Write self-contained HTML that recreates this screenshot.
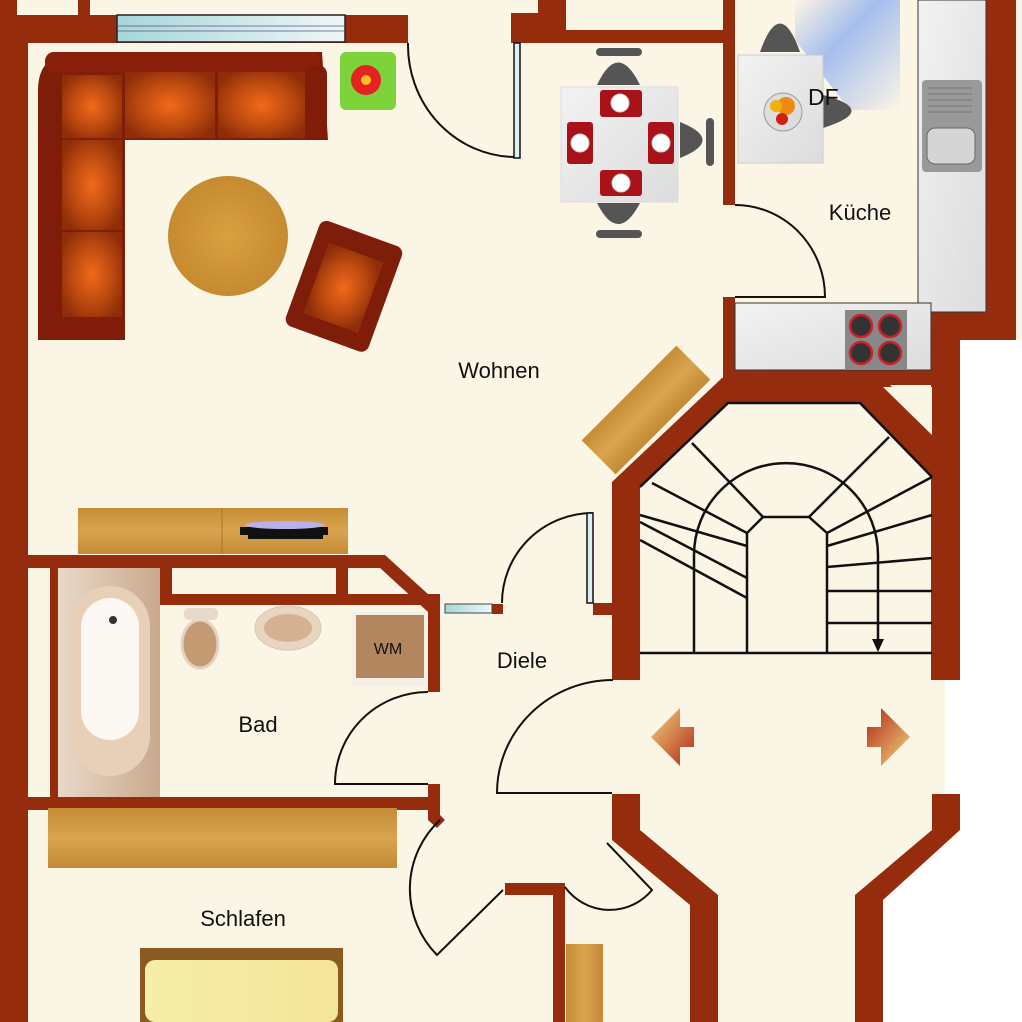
<!DOCTYPE html>
<html><head><meta charset="utf-8"><style>
html,body{margin:0;padding:0;background:#fff;}
svg{display:block;}
text{font-family:"Liberation Sans",Arial,sans-serif;fill:#111;}
</style></head><body>
<svg width="1022" height="1022" viewBox="0 0 1022 1022" xmlns="http://www.w3.org/2000/svg">
<defs>
<linearGradient id="wood" x1="0" y1="0" x2="1" y2="0">
<stop offset="0" stop-color="#C58C34"/><stop offset="0.5" stop-color="#D9A450"/><stop offset="1" stop-color="#C48A36"/></linearGradient>
<linearGradient id="woodv" x1="0" y1="0" x2="0" y2="1">
<stop offset="0" stop-color="#C58C34"/><stop offset="0.5" stop-color="#D9A450"/><stop offset="1" stop-color="#C48A36"/></linearGradient>
<radialGradient id="cush" cx="0.5" cy="0.5" r="0.6">
<stop offset="0" stop-color="#F26A1A"/><stop offset="0.6" stop-color="#B9480F"/><stop offset="1" stop-color="#8E2D08"/></radialGradient>
<radialGradient id="tbl" cx="0.5" cy="0.5" r="0.5">
<stop offset="0" stop-color="#D9A040"/><stop offset="1" stop-color="#C68A30"/></radialGradient>
<linearGradient id="glass" x1="0" y1="0" x2="1" y2="0">
<stop offset="0" stop-color="#A7D6DA"/><stop offset="1" stop-color="#EEF6F7"/></linearGradient>
<linearGradient id="df" x1="0" y1="0" x2="1" y2="1">
<stop offset="0" stop-color="#FBF5E6"/><stop offset="0.4" stop-color="#8FB0EE"/><stop offset="1" stop-color="#FBF5E6"/></linearGradient>
<linearGradient id="grey" x1="0" y1="0" x2="1" y2="1">
<stop offset="0" stop-color="#F2F2F2"/><stop offset="1" stop-color="#DCDCDC"/></linearGradient>
<linearGradient id="bath" x1="0" y1="0" x2="1" y2="0">
<stop offset="0" stop-color="#E9D8C8"/><stop offset="1" stop-color="#C9A88C"/></linearGradient>
<linearGradient id="arrL" x1="0" y1="0" x2="1" y2="1">
<stop offset="0" stop-color="#F3D77A"/><stop offset="1" stop-color="#B0281A"/></linearGradient>
<linearGradient id="arrR" x1="0" y1="0" x2="1" y2="1">
<stop offset="0" stop-color="#B0281A"/><stop offset="1" stop-color="#F3D77A"/></linearGradient>
<linearGradient id="bed" x1="0" y1="0" x2="1" y2="0">
<stop offset="0" stop-color="#F6EEA8"/><stop offset="1" stop-color="#F3E59A"/></linearGradient>
</defs>

<rect x="0" y="0" width="1022" height="1022" fill="#FBF5E6"/>
<polygon points="960,340 1022,340 1022,1022 883,1022 883,900 960,830" fill="#fff"/>
<rect x="945" y="680" width="77" height="115" fill="#fff"/>
<rect x="0" y="0" width="17" height="15" fill="#962C0E"/>
<rect x="78" y="0" width="12" height="15" fill="#962C0E"/>

<g fill="#962C0E">
<rect x="0" y="15" width="28" height="1007"/>
<rect x="0" y="15" width="408" height="28"/>
<rect x="520" y="30" width="213" height="13"/>
<rect x="511" y="13" width="27" height="30"/>
<rect x="538" y="0" width="28" height="32"/>
<rect x="723" y="0" width="12" height="205"/>
<rect x="723" y="297" width="12" height="90"/>
<rect x="986" y="0" width="30" height="340"/>
<rect x="931" y="312" width="85" height="28"/>
<rect x="931" y="312" width="29" height="368"/>
<rect x="723" y="368" width="237" height="17"/>
<polygon points="612,482 722,378 883,378 960,455 960,680 932,680 932,477 860,403 728,403 640,487 640,680 612,680"/>
<polygon points="612,794 640,794 640,830 718,895 718,1022 690,1022 690,905 612,840"/>
<polygon points="932,794 960,794 960,830 883,900 883,1022 855,1022 855,895 932,830"/>
<rect x="28" y="555" width="357" height="13"/>
<polygon points="385,555 440,605 440,692 428,692 428,612 380,568 385,568"/>
<rect x="160" y="568" width="12" height="37"/>
<rect x="160" y="594" width="280" height="11"/>
<rect x="336" y="568" width="12" height="30"/>
<rect x="50" y="568" width="8" height="229"/>
<rect x="28" y="797" width="412" height="13"/>
<polygon points="428,784 440,784 440,815 445,820 437,828 428,820"/>
<rect x="492" y="604" width="11" height="10"/>
<rect x="593" y="603" width="20" height="12"/>
<rect x="505" y="883" width="60" height="12"/>
<rect x="553" y="883" width="12" height="139"/>
</g>
<polygon points="883,387 932,387 932,435" fill="#FBF5E6"/>
<polygon points="348,568 380,568 400,587 348,587" fill="#FBF5E6"/>

<rect x="117" y="15" width="228" height="27" fill="url(#glass)" stroke="#222" stroke-width="1.5"/>
<line x1="118" y1="26" x2="344" y2="26" stroke="#557" stroke-width="0.8"/>
<line x1="118" y1="31" x2="344" y2="31" stroke="#557" stroke-width="0.8"/>
<rect x="445" y="604" width="47" height="9" fill="url(#glass)" stroke="#444" stroke-width="1"/>
<polygon points="795,0 900,0 900,110 850,110 795,40" fill="url(#df)" opacity="0.8"/>

<g fill="none" stroke="#111" stroke-width="2">
<path d="M408,43 A108,112 0 0 0 514,157"/>
<rect x="514" y="43" width="6" height="115" fill="#DDEEEE" stroke-width="1.5"/>
<path d="M735,205 A90,92 0 0 1 825,297 L735,297"/>
<path d="M502,603 A91,90 0 0 1 593,513"/>
<rect x="587" y="513" width="6" height="90" fill="#DDEEEE" stroke-width="1.5"/>
<path d="M428,692 A93,92 0 0 0 335,784 L428,784"/>
<path d="M613,680 A116,113 0 0 0 497,793 L612,793"/>
<path d="M440,820 A94,94 0 0 0 437,955 L503,890"/>
<path d="M565,887 A55,55 0 0 0 652,890 L607,843"/>
</g>

<g fill="none" stroke="#111" stroke-width="2.5">
<polyline points="640,487 728,403 860,403 932,477"/>
<line x1="640" y1="653" x2="932" y2="653"/>
<path d="M747,653 L747,533 L763,517 L809,517 L827,533 L827,653"/>
<path d="M694,653 L694,555 A92,92 0 0 1 878,555 L878,645"/>
<line x1="692" y1="443" x2="763" y2="517"/>
<line x1="652" y1="483" x2="747" y2="533"/>
<line x1="640" y1="515" x2="747" y2="546"/>
<line x1="640" y1="522" x2="747" y2="578"/>
<line x1="640" y1="540" x2="747" y2="598"/>
<line x1="889" y1="437" x2="809" y2="517"/>
<line x1="932" y1="477" x2="827" y2="533"/>
<line x1="932" y1="515" x2="827" y2="546"/>
<line x1="932" y1="558" x2="827" y2="567"/>
<line x1="932" y1="591" x2="827" y2="591"/>
<line x1="932" y1="623" x2="827" y2="623"/>
</g>
<polygon points="872,639 884,639 878,652" fill="#111"/>

<polygon points="651,737 680,708 680,727 694,727 694,747 680,747 680,766" fill="url(#arrL)"/>
<polygon points="910,737 881,708 881,727 867,727 867,747 881,747 881,766" fill="url(#arrR)"/>

<rect x="918" y="0" width="68" height="312" fill="url(#grey)" stroke="#333" stroke-width="1"/>
<rect x="735" y="303" width="196" height="67" fill="url(#grey)" stroke="#333" stroke-width="1"/>
<rect x="922" y="80" width="60" height="92" rx="4" fill="#999"/>
<rect x="927" y="128" width="48" height="36" rx="8" fill="#D5D5D5" stroke="#666"/>
<g stroke="#777" stroke-width="1"><line x1="928" y1="88" x2="972" y2="88"/><line x1="928" y1="94" x2="972" y2="94"/><line x1="928" y1="100" x2="972" y2="100"/><line x1="928" y1="106" x2="972" y2="106"/><line x1="928" y1="112" x2="972" y2="112"/></g>
<rect x="845" y="310" width="62" height="60" fill="#888"/>
<g fill="#333" stroke="#D0202A" stroke-width="2.5">
<circle cx="861" cy="326" r="11"/><circle cx="890" cy="326" r="11"/>
<circle cx="861" cy="353" r="11"/><circle cx="890" cy="353" r="11"/></g>

<path d="M760,52 Q780,-5 800,52 Z" fill="#555"/>
<path d="M823,95 Q880,110 823,128 Z" fill="#555"/>
<rect x="738" y="55" width="85" height="108" fill="url(#grey)" stroke="#ccc"/>
<circle cx="783" cy="112" r="19" fill="#ddd" stroke="#999"/>
<circle cx="786" cy="106" r="9" fill="#F08A10"/><circle cx="776" cy="106" r="6" fill="#F0B010"/><circle cx="782" cy="119" r="6" fill="#D02010"/>
<text x="808" y="105" font-size="23">DF</text>

<g fill="#555">
<path d="M597,85 Q618,40 640,85 Z"/><path d="M597,203 Q618,245 640,203 Z"/>
<path d="M680,122 Q725,140 680,158 Z"/>
<rect x="596" y="48" width="46" height="8" rx="4"/><rect x="596" y="230" width="46" height="8" rx="4"/>
<rect x="706" y="118" width="8" height="48" rx="4"/>
</g>
<rect x="561" y="87" width="117" height="115" fill="url(#grey)" stroke="#ddd"/>
<g fill="#A91218"><rect x="600" y="90" width="42" height="27" rx="3"/><rect x="600" y="170" width="42" height="26" rx="3"/><rect x="567" y="122" width="26" height="42" rx="3"/><rect x="648" y="122" width="26" height="42" rx="3"/></g>
<g fill="#fff" stroke="#ccc"><circle cx="620" cy="103" r="9"/><circle cx="621" cy="183" r="9"/><circle cx="580" cy="143" r="9"/><circle cx="661" cy="143" r="9"/></g>

<g>
<path d="M38,340 L38,90 Q38,52 80,52 L322,52 L328,140 L125,140 L125,340 Z" fill="#7E1E0A"/>
<rect x="45" y="52" width="275" height="20" rx="9" fill="#8A200C"/>
<rect x="305" y="65" width="22" height="75" rx="9" fill="#801C0A"/>
<rect x="38" y="135" width="22" height="200" rx="9" fill="#801C0A"/>
<rect x="50" y="318" width="75" height="22" rx="9" fill="#801C0A"/>
<rect x="125" y="72" width="90" height="66" fill="url(#cush)"/>
<rect x="218" y="72" width="87" height="66" fill="url(#cush)"/>
<rect x="62" y="140" width="60" height="90" fill="url(#cush)"/>
<rect x="62" y="232" width="60" height="85" fill="url(#cush)"/>
<path d="M62,75 L122,75 L122,138 L62,138 Z" fill="url(#cush)"/>
</g>
<circle cx="228" cy="236" r="60" fill="url(#tbl)"/>
<g transform="rotate(20 343 286)">
<rect x="300" y="230" width="88" height="112" rx="8" fill="#7E1E0A"/>
<rect x="315" y="250" width="58" height="75" fill="url(#cush)"/>
</g>
<rect x="340" y="52" width="56" height="58" fill="#7ED23A" rx="6"/>
<circle cx="366" cy="80" r="15" fill="#E52222"/><circle cx="366" cy="80" r="5" fill="#F5C020"/>

<rect x="78" y="508" width="270" height="46" fill="url(#woodv)"/>
<line x1="222" y1="508" x2="222" y2="554" stroke="#A87530"/>
<rect x="240" y="527" width="88" height="8" fill="#111"/>
<ellipse cx="285" cy="525" rx="40" ry="4" fill="#B8B0E8"/>
<rect x="248" y="535" width="75" height="4" fill="#111"/>
<g transform="rotate(-45 646 410)"><rect x="579" y="386" width="134" height="48" fill="url(#woodv)"/></g>

<rect x="58" y="568" width="102" height="229" fill="url(#bath)"/>
<rect x="70" y="586" width="80" height="190" rx="40" fill="#E8D0B8"/>
<rect x="81" y="598" width="58" height="142" rx="29" fill="#FBF8F4"/>
<circle cx="113" cy="620" r="4" fill="#333"/>
<ellipse cx="200" cy="644" rx="18" ry="24" fill="#C49A72" stroke="#E6D2C0" stroke-width="3"/>
<rect x="184" y="608" width="34" height="12" rx="5" fill="#E8DACB"/>
<ellipse cx="288" cy="628" rx="33" ry="22" fill="#E8D6C0" stroke="#D8C4AE"/>
<ellipse cx="288" cy="628" rx="24" ry="14" fill="#D4B190"/>
<rect x="352" y="612" width="74" height="74" fill="#F3EEE6"/>
<rect x="356" y="615" width="68" height="63" fill="#B38660"/>
<text x="388" y="654" font-size="16" text-anchor="middle">WM</text>

<rect x="48" y="808" width="349" height="60" fill="url(#woodv)"/>
<rect x="140" y="948" width="203" height="74" fill="#8A5A20"/>
<rect x="145" y="960" width="193" height="62" rx="10" fill="url(#bed)"/>
<rect x="566" y="944" width="37" height="78" fill="url(#wood)"/>

<text x="499" y="378" font-size="22" text-anchor="middle">Wohnen</text>
<text x="860" y="220" font-size="22" text-anchor="middle">Küche</text>
<text x="522" y="668" font-size="22" text-anchor="middle">Diele</text>
<text x="258" y="732" font-size="22" text-anchor="middle">Bad</text>
<text x="243" y="926" font-size="22" text-anchor="middle">Schlafen</text>
</svg>
</body></html>
